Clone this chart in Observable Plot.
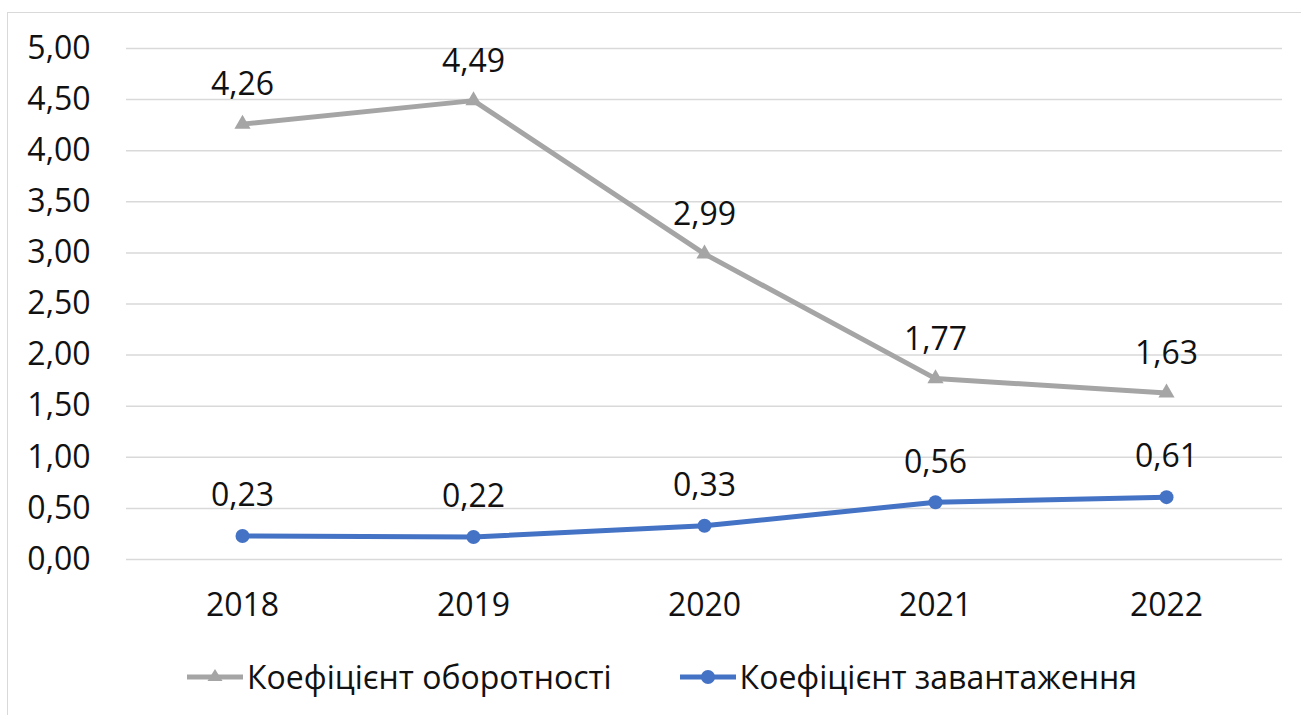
<!DOCTYPE html>
<html>
<head>
<meta charset="utf-8">
<script src="https://cdn.jsdelivr.net/npm/d3@7"></script>
<script src="https://cdn.jsdelivr.net/npm/@observablehq/plot@0.6"></script>
<style>
  html, body { margin: 0; padding: 0; background: #fff; overflow: hidden; width: 1301px; height: 715px; }
  #frame { position: absolute; left: 7px; top: 12px; width: 1400px; height: 800px; border: 1.5px solid #d9d9d9; box-sizing: border-box; }
  #chart { position: absolute; left: 0; top: 0; }
  #legend { position: absolute; left: 187px; top: 655px; display: flex; align-items: center; font-family: "Open Sans", sans-serif; font-size: 32px; color: #111; white-space: nowrap; }
  .item { display: flex; align-items: center; }
  .item svg { margin-right: 4px; }
</style>
</head>
<body>
<div id="frame"></div>
<div id="chart"></div>
<div id="legend"></div>
<script>
const years = ["2018", "2019", "2020", "2021", "2022"];
const turnover = [4.26, 4.49, 2.99, 1.77, 1.63];   // Коефіцієнт оборотності
const load = [0.23, 0.22, 0.33, 0.56, 0.61];       // Коефіцієнт завантаження
const yTicks = [0, 0.5, 1, 1.5, 2, 2.5, 3, 3.5, 4, 4.5, 5];
const seriesNames = ["Коефіцієнт оборотності", "Коефіцієнт завантаження"];
const colors = ["#a5a5a5", "#4472c4"];

const fmt = d => d.toFixed(2).replace(".", ",");
const dataA = years.map((y, i) => ({year: y, value: turnover[i]}));
const dataB = years.map((y, i) => ({year: y, value: load[i]}));
const font = "'Open Sans', sans-serif";
const fs = 32;

const chart = Plot.plot({
  width: 1301,
  height: 640,
  marginLeft: 126,
  marginRight: 19,
  marginTop: 48,
  marginBottom: 81,
  style: {fontFamily: font, fontSize: fs + "px", color: "#111", background: "transparent"},
  x: {type: "point", domain: years, padding: 0.5, label: null},
  y: {domain: [0, 5], label: null},
  marks: [
    Plot.ruleY(yTicks, {stroke: "#d9d9d9", strokeWidth: 1.5}),
    Plot.axisY(yTicks, {tickFormat: fmt, tickSize: 0, tickPadding: 36, fontSize: fs, fill: "#111"}),
    Plot.axisX({tickSize: 0, tickPadding: 34, fontSize: fs, fill: "#111"}),
    Plot.line(dataA, {x: "year", y: "value", stroke: colors[0], strokeWidth: 5}),
    Plot.dot(dataA, {x: "year", y: "value", symbol: "triangle", r: 6, fill: colors[0]}),
    Plot.text(dataA, {x: "year", y: "value", text: d => fmt(d.value), dy: -39, fontSize: fs, fill: "#111"}),
    Plot.line(dataB, {x: "year", y: "value", stroke: colors[1], strokeWidth: 5}),
    Plot.dot(dataB, {x: "year", y: "value", symbol: "circle", r: 7, fill: colors[1]}),
    Plot.text(dataB, {x: "year", y: "value", text: d => fmt(d.value), dy: -40, fontSize: fs, fill: "#111"})
  ]
});
document.getElementById("chart").appendChild(chart);

const legend = document.getElementById("legend");
seriesNames.forEach((name, i) => {
  const item = document.createElement("div");
  item.className = "item";
  if (i > 0) item.style.marginLeft = "68px";
  const sym = i === 0
    ? `<polygon points="28,20 20.5,32 35.5,32" fill="${colors[0]}"/>`
    : `<circle cx="28" cy="28" r="7" fill="${colors[1]}"/>`;
  item.innerHTML = `<svg width="56" height="42" viewBox="0 7 56 42"><line x1="0" x2="56" y1="28" y2="28" stroke="${colors[i]}" stroke-width="5"/>${sym}</svg><span>${name}</span>`;
  legend.appendChild(item);
});
</script>
</body>
</html>
